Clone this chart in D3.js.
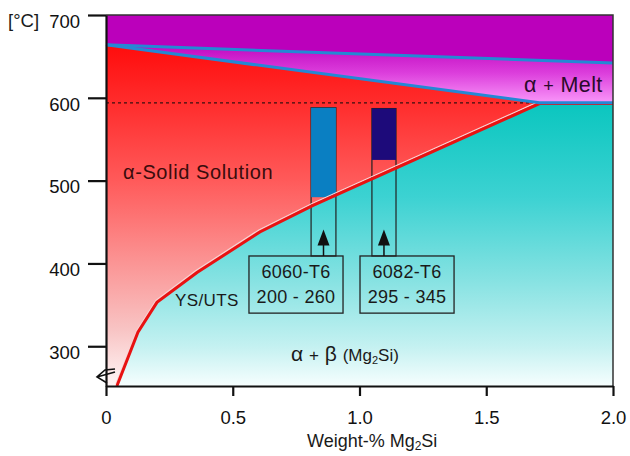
<!DOCTYPE html>
<html>
<head>
<meta charset="utf-8">
<script src="https://cdn.jsdelivr.net/npm/d3@7"></script>
<style>
  body { margin: 0; background: #fff; }
  text { font-family: "Liberation Sans", Arial, sans-serif; fill: #1a1a1a; }
</style>
</head>
<body>
<div id="chart"></div>
<script>
// phase boundaries, [weight-% Mg2Si, temperature]
var liquidus = [[0, 664], [2.0, 642]];
var solidus = [[0, 664], [1.71, 594]];
var solvus = [[0.043, 252], [0.126, 317], [0.201, 353], [0.359, 389], [0.607, 438], [0.817, 470], [1.71, 593], [2.0, 593]];
var eutecticT = 594;

// alloys: composition range, coloured bar range, label
var alloyNames = ["6060-T6", "6082-T6"];
var alloyStrength = ["200 - 260", "295 - 345"];
var alloyX = [[0.809, 0.907], [1.049, 1.144]];
var alloyBar = [[480, 588], [525, 587]];
var alloyColor = ["#0a7fc2", "#1d0a7a"];
var boxX = [[0.564, 0.935], [1.002, 1.373]];
var boxT = [340, 409];
var arrowTipT = 441;

var xTicks = [0, 0.5, 1.0, 1.5, 2.0];
var xTickLabels = ["0", "0.5", "1.0", "1.5", "2.0"];
var yTicks = [300, 400, 500, 600, 700];

var width = 630, height = 456;
var margin = { top: 15, right: 17, bottom: 70, left: 106 };

var x = d3.scaleLinear().domain([0, 2]).range([margin.left, width - margin.right]);
var y = d3.scaleLinear().domain([252, 700]).range([height - margin.bottom, margin.top]);

var svg = d3.select("#chart").append("svg")
    .attr("width", width)
    .attr("height", height);

var line = d3.line().x(function (d) { return x(d[0]); }).y(function (d) { return y(d[1]); });

// gradients
var defs = svg.append("defs");
function grad(id, stops) {
    var y0 = y(stops[0][0]), y1 = y(stops[stops.length - 1][0]);
    var g = defs.append("linearGradient")
        .attr("id", id)
        .attr("gradientUnits", "userSpaceOnUse")
        .attr("x1", 0).attr("x2", 0)
        .attr("y1", y0).attr("y2", y1);
    stops.forEach(function (s) {
        g.append("stop")
            .attr("offset", (y(s[0]) - y0) / (y1 - y0))
            .attr("stop-color", s[1]);
    });
}
grad("redGrad", [[664, "#ff0c0c"], [590, "#ff2e2e"], [500, "#ff5a5a"], [400, "#fb9595"], [320, "#f8c4c4"], [252, "#fff6f6"]]);
grad("tealGrad", [[594, "#0ac6bf"], [480, "#3cd2d2"], [380, "#86e2e2"], [300, "#c4f1f1"], [252, "#f6fefe"]]);
grad("meltGrad", [[664, "#c008c0"], [630, "#dc3edc"], [594, "#f996f9"]]);

// liquid
svg.append("path")
    .attr("d", line([[0, 700], [2, 700], liquidus[1], liquidus[0]]) + "Z")
    .attr("fill", "#bb00bb");

// alpha + melt
svg.append("path")
    .attr("d", line([liquidus[0], liquidus[1], [2, eutecticT], solidus[1]]) + "Z")
    .attr("fill", "url(#meltGrad)");

// alpha solid solution
var redPts = solidus.concat(solvus.slice(0, 7).reverse()).concat([[0, 252]]);
svg.append("path")
    .attr("d", line(redPts) + "Z")
    .attr("fill", "url(#redGrad)");

// alpha + beta
var tealPts = solvus.concat([[2.0, 252]]);
svg.append("path")
    .attr("d", line(tealPts) + "Z")
    .attr("fill", "url(#tealGrad)");

// eutectic dotted line
svg.append("line")
    .attr("x1", x(0)).attr("x2", x(solidus[1][0]))
    .attr("y1", y(eutecticT)).attr("y2", y(eutecticT))
    .attr("stroke", "#3a1010")
    .attr("stroke-width", 1.3)
    .attr("stroke-dasharray", "3,3");

// alloy bars, outlines down to the label boxes
alloyNames.forEach(function (name, i) {
    svg.append("rect")
        .attr("x", x(alloyX[i][0]))
        .attr("y", y(alloyBar[i][1]))
        .attr("width", x(alloyX[i][1]) - x(alloyX[i][0]))
        .attr("height", y(boxT[1]) - y(alloyBar[i][1]))
        .attr("fill", "none")
        .attr("stroke", "#222")
        .attr("stroke-width", 1.2);
    svg.append("rect")
        .attr("x", x(alloyX[i][0]))
        .attr("y", y(alloyBar[i][1]))
        .attr("width", x(alloyX[i][1]) - x(alloyX[i][0]))
        .attr("height", y(alloyBar[i][0]) - y(alloyBar[i][1]))
        .attr("fill", alloyColor[i]);
});

// solvus line
svg.append("path")
    .attr("d", line(solvus.slice(0, 7)))
    .attr("fill", "none")
    .attr("stroke", "#f6d4d4")
    .attr("stroke-width", 1.2)
    .attr("transform", "translate(-1,-2)");
svg.append("path")
    .attr("d", line(solvus))
    .attr("fill", "none")
    .attr("stroke", "#e81212")
    .attr("stroke-width", 3);

// liquidus / solidus
svg.append("path")
    .attr("d", line(liquidus))
    .attr("fill", "none")
    .attr("stroke", "#2488d4")
    .attr("stroke-width", 3);
svg.append("path")
    .attr("d", line(solidus.concat([[2.0, eutecticT]])))
    .attr("fill", "none")
    .attr("stroke", "#2488d4")
    .attr("stroke-width", 3);

// label boxes and arrows
alloyNames.forEach(function (name, i) {
    var bx0 = x(boxX[i][0]), bx1 = x(boxX[i][1]);
    svg.append("rect")
        .attr("x", bx0)
        .attr("y", y(boxT[1]))
        .attr("width", bx1 - bx0)
        .attr("height", y(boxT[0]) - y(boxT[1]))
        .attr("fill", "none")
        .attr("stroke", "#222")
        .attr("stroke-width", 1.3);
    var cx = (x(alloyX[i][0]) + x(alloyX[i][1])) / 2;
    var tip = y(arrowTipT), base = y(boxT[1]);
    svg.append("line")
        .attr("x1", cx).attr("x2", cx)
        .attr("y1", base).attr("y2", tip + 10)
        .attr("stroke", "#111").attr("stroke-width", 1.5);
    svg.append("path")
        .attr("d", "M" + cx + "," + tip + "L" + (cx + 6) + "," + (tip + 16) + "L" + (cx - 6) + "," + (tip + 16) + "Z")
        .attr("fill", "#111");
    var mid = (bx0 + bx1) / 2;
    svg.append("text")
        .attr("x", mid).attr("y", y(boxT[1]) + 22)
        .attr("text-anchor", "middle")
        .style("font-size", "18px")
        .style("letter-spacing", "0.3px")
        .text(name);
    svg.append("text")
        .attr("x", mid).attr("y", y(boxT[1]) + 47)
        .attr("text-anchor", "middle")
        .style("font-size", "18px")
        .style("letter-spacing", "0.3px")
        .text(alloyStrength[i]);
});

// frame (top and right)
svg.append("path")
    .attr("d", "M" + x(0) + "," + y(700) + "H" + x(2) + "V" + y(252))
    .attr("fill", "none")
    .attr("stroke", "#333")
    .attr("stroke-width", 1.5);

// axes
var yAxis = svg.append("g")
    .attr("transform", "translate(" + x(0) + ",0)")
    .call(d3.axisLeft(y).tickValues(yTicks).tickSize(18).tickSizeOuter(0).tickPadding(8));
yAxis.selectAll("text").attr("dy", "0.66em").style("font-size", "18.5px").style("fill", "#111");

var xAxis = svg.append("g")
    .attr("transform", "translate(0," + y(252) + ")")
    .call(d3.axisBottom(x).tickValues(xTicks).tickSize(10).tickSizeOuter(0).tickPadding(15)
        .tickFormat(function (d, i) { return xTickLabels[i]; }));
xAxis.selectAll("text").style("font-size", "18.5px").style("fill", "#111");

[yAxis, xAxis].forEach(function (a) {
    a.select(".domain").attr("stroke", "#111").attr("stroke-width", 2.2);
    a.selectAll(".tick line").attr("stroke", "#111").attr("stroke-width", 2.2);
});

// axis break symbol
var bx = x(0), by = y(252);
svg.append("path")
    .attr("d", "M" + (bx + 9) + "," + (by - 17) + "L" + (bx - 1) + "," + (by - 16) +
        "L" + (bx - 9) + "," + (by - 9) + "L" + (bx + 1) + "," + (by - 3) +
        "M" + (bx - 9) + "," + (by - 9) + "L" + (bx + 9) + "," + (by - 14))
    .attr("fill", "none")
    .attr("stroke", "#111")
    .attr("stroke-width", 1.6);

// labels
svg.append("text")
    .attr("x", 8).attr("y", 27)
    .style("font-size", "18.5px")
    .text("[°C]");

svg.append("text")
    .attr("x", x(1.05)).attr("y", 447)
    .attr("text-anchor", "middle")
    .style("font-size", "18px")
    .html('Weight-% Mg<tspan dy="3" style="font-size:12px">2</tspan><tspan dy="-3">Si</tspan>');

svg.append("text")
    .attr("x", 123).attr("y", 179)
    .style("font-size", "20px")
    .style("letter-spacing", "0.6px")
    .style("fill", "#3a0c0c")
    .text("α-Solid Solution");

svg.append("text")
    .attr("x", 524).attr("y", 92)
    .style("font-size", "21.5px")
    .style("letter-spacing", "0.4px")
    .style("fill", "#2a0a2a")
    .html('α <tspan style="font-size:18px">+</tspan> Melt');

svg.append("text")
    .attr("x", 175).attr("y", 306)
    .style("font-size", "17px")
    .style("letter-spacing", "0.4px")
    .text("YS/UTS");

svg.append("text")
    .attr("x", 291).attr("y", 361)
    .style("font-size", "21px")
    .html('α <tspan style="font-size:17px">+</tspan> β <tspan style="font-size:17px">(Mg</tspan><tspan dy="3" style="font-size:11px">2</tspan><tspan dy="-3" style="font-size:17px">Si)</tspan>');
</script>
</body>
</html>
